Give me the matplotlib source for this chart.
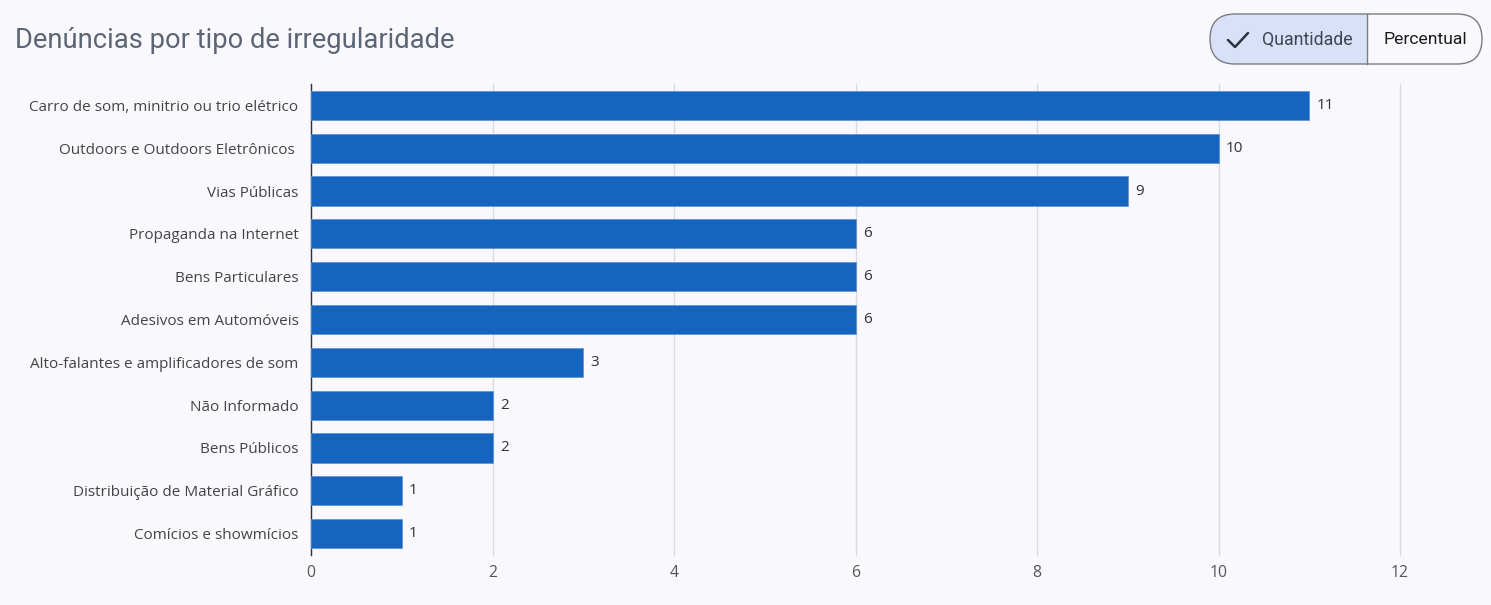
import matplotlib.pyplot as plt
from matplotlib.patches import FancyBboxPatch, Rectangle

categorias = [
    "Carro de som, minitrio ou trio elétrico",
    "Outdoors e Outdoors Eletrônicos ",
    "Vias Públicas",
    "Propaganda na Internet",
    "Bens Particulares",
    "Adesivos em Automóveis",
    "Alto-falantes e amplificadores de som",
    "Não Informado",
    "Bens Públicos",
    "Distribuição de Material Gráfico",
    "Comícios e showmícios",
]
quantidade = [11, 10, 9, 6, 6, 6, 3, 2, 2, 1, 1]
ticks_x = [0, 2, 4, 6, 8, 10, 12]

fundo = "#f9f9fd"
azul = "#1565c0"

W, H = 1491, 605
fig = plt.figure(figsize=(W / 100, H / 100), dpi=100, facecolor=fundo)
ax = fig.add_axes([311 / W, 1 - 555 / H, (1400 - 311) / W, (555 - 84) / H])
ax.set_facecolor(fundo)

y = list(range(len(categorias)))
ax.barh(y, quantidade, height=0.68, color=azul, edgecolor="#5b8fd6", linewidth=0.5, zorder=3)
for yi, v in zip(y, quantidade):
    ax.text(v + 0.08, yi, str(v), va="center", ha="left", fontsize=11,
            color="#333333", family="Open Sans")

ax.set_ylim(len(categorias) - 0.5, -0.5)
ax.set_xlim(0, 12)
ax.set_yticks(y)
ax.set_yticklabels(categorias, fontsize=11, color="#444444", family="Open Sans")
ax.set_xticks(ticks_x)
ax.set_xticklabels([str(t) for t in ticks_x], fontsize=11.3, color="#555555", family="Open Sans")
ax.tick_params(axis="y", length=0, pad=9)
ax.tick_params(axis="x", length=0, pad=7)
for s in ["top", "right", "bottom"]:
    ax.spines[s].set_visible(False)
ax.spines["left"].set_color("#333333")
ax.spines["left"].set_linewidth(1)
ax.grid(axis="x", color="#dadbe0", linewidth=1, zorder=0)
for gl in ax.get_xgridlines():
    gl.set_clip_on(False)
ax.set_axisbelow(True)

fig.text(15 / W, 1 - 40 / H, "Denúncias por tipo de irregularidade", fontsize=19.7,
         color="#5b6575", family="Roboto", va="center", ha="left")

# botao de alternancia Quantidade / Percentual
bx0, bx1, by0, by1, mid = 1210, 1482, 14, 64, 1367
r = (by1 - by0) / 2
bg = fig.add_axes([0, 0, 1, 1], facecolor="none")
bg.set_xlim(0, W)
bg.set_ylim(H, 0)
bg.axis("off")
esq = FancyBboxPatch((bx0, by0), mid - bx0 + r, by1 - by0,
                     boxstyle=f"round,pad=0,rounding_size={r}",
                     facecolor="#d8e1f8", edgecolor="none")
clip = Rectangle((bx0, by0), mid - bx0, by1 - by0, transform=bg.transData)
bg.add_patch(esq)
esq.set_clip_path(clip)
borda = FancyBboxPatch((bx0, by0), bx1 - bx0, by1 - by0,
                       boxstyle=f"round,pad=0,rounding_size={r}",
                       facecolor="none", edgecolor="#7a7d80", linewidth=1)
bg.add_patch(borda)
bg.plot([mid, mid], [by0, by1], color="#7a7d80", linewidth=1)
bg.plot([1228, 1235, 1248], [40, 47, 33], color="#2c3340", linewidth=1.8,
        solid_capstyle="round", solid_joinstyle="round")
bg.text(1307.5, 39.5, "Quantidade", fontsize=12.8, color="#3e4656", family="Roboto",
        ha="center", va="center")
bg.text(1425, 39.5, "Percentual", fontsize=12.6, color="#1b1b1f", family="Roboto",
        ha="center", va="center")

fig.savefig("out.png", dpi=100, facecolor=fundo)
